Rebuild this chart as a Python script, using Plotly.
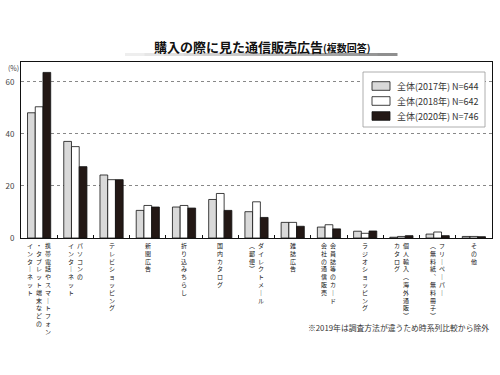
import plotly.graph_objects as go

# ---------------- data ----------------
categories = [
    "携帯電話やスマートフォン\n・タブレット端末などの\nインターネット",
    "パソコンの\nインターネット",
    "テレビショッピング",
    "新聞広告",
    "折り込みちらし",
    "国内カタログ",
    "ダイレクトメール\n(郵便)",
    "雑誌広告",
    "会員誌等のカード\n会社の通信販売",
    "ラジオショッピング",
    "個人輸入(海外通販)\nカタログ",
    "フリーペーパー\n(無料紙、無料冊子)",
    "その他",
]
series_names = ["全体(2017年) N=644", "全体(2018年) N=642", "全体(2020年) N=746"]
v2017 = [48.1, 37.1, 24.2, 10.6, 11.9, 14.8, 10.1, 6.0, 4.2, 2.6, 0.3, 1.5, 0.6]
v2018 = [50.4, 35.1, 22.4, 12.5, 12.5, 17.1, 13.9, 6.0, 5.1, 1.8, 0.6, 2.3, 0.6]
v2020 = [63.6, 27.4, 22.4, 11.9, 11.5, 10.6, 7.9, 4.5, 3.5, 2.7, 0.9, 0.9, 0.5]
y_ticks = [0, 20, 40, 60]
title_main = "購入の際に見た通信販売広告"
title_sub = "(複数回答)"
footnote = "※2019年は調査方法が違うため時系列比較から除外"
unit_label = "(%)"

# ---------------- styling ----------------
FONT = "Noto Sans CJK JP"
colors = ["#d9d9d9", "#ffffff", "#231815"]
W, H = 500, 375
L, R, T, B = 21, 8, 62, 137
PW, PH = W - L - R, H - T - B


def px(x):
    return (x - L) / PW


def py(y):
    return (H - B - y) / PH


keys = [c.replace("\n", "") for c in categories]
series = [v2017, v2018, v2020]

fig = go.Figure()
for name, vals, col in zip(series_names, series, colors):
    fig.add_trace(go.Bar(
        x=keys, y=vals, name=name,
        marker=dict(color=col, line=dict(color="#111111", width=0.8)),
        showlegend=False,
    ))

annotations = []
shapes = []

# vertical (tategaki) category labels: one text per column, one character per line
VERT = {"ー": "｜", "(": "︵", ")": "︶", "、": "︑"}
colgap = 9.0
for key, label in zip(keys, categories):
    cols = label.split("\n")
    n = len(cols)
    for j, col in enumerate(cols):
        xs = ((n - 1) / 2 - j) * colgap
        text = "<br>".join(VERT.get(ch, ch) for ch in col)
        annotations.append(dict(
            x=key, xref="x", y=0, yref="paper",
            xshift=xs, yshift=-2,
            text=text, showarrow=False, align="center",
            xanchor="center", yanchor="top", borderpad=0,
            font=dict(family=FONT, size=6.0, color="#111111"),
        ))

# title
annotations.append(dict(
    x=px(262), y=py(46), xref="paper", yref="paper", showarrow=False,
    xanchor="center", yanchor="middle",
    text=f"<b>{title_main}</b><span style='font-size:10px'><b>{title_sub}</b></span>",
    font=dict(family=FONT, size=13, color="#111111"),
))
# title underline bar (gradient)
nseg = 14
x0u, x1u = 125, 397
for k in range(nseg):
    a = x0u + (x1u - x0u) * k / nseg
    b = x0u + (x1u - x0u) * (k + 1) / nseg + 0.5
    g = int(238 - 95 * k / (nseg - 1))
    shapes.append(dict(type="rect", xref="paper", yref="paper",
                       x0=px(a), x1=px(b), y0=py(56), y1=py(53),
                       fillcolor=f"rgb({g},{g},{g})", line=dict(width=0), layer="above"))

# unit label
annotations.append(dict(
    x=px(13), y=py(68), xref="paper", yref="paper", showarrow=False,
    xanchor="center", yanchor="middle", text=unit_label,
    font=dict(family=FONT, size=7, color="#444444"),
))
# footnote
annotations.append(dict(
    x=px(491), y=py(327), xref="paper", yref="paper", showarrow=False,
    xanchor="right", yanchor="middle", text=footnote,
    font=dict(family=FONT, size=7.8, color="#333333"),
))

# manual legend
shapes.append(dict(type="rect", xref="paper", yref="paper",
                   x0=px(363), x1=px(485), y0=py(127), y1=py(72),
                   fillcolor="white", line=dict(color="#999999", width=0.8), layer="above"))
for k, (name, col) in enumerate(zip(series_names, colors)):
    yc = 86 + k * 15
    shapes.append(dict(type="rect", xref="paper", yref="paper",
                       x0=px(372), x1=px(390), y0=py(yc + 4.3), y1=py(yc - 4.3),
                       fillcolor=col, line=dict(color="#111111", width=0.8), layer="above"))
    annotations.append(dict(
        x=px(395), y=py(yc), xref="paper", yref="paper", showarrow=False,
        xanchor="left", yanchor="middle", text=name,
        font=dict(family=FONT, size=9, color="#333333"),
    ))

fig.update_layout(
    width=W, height=H,
    margin=dict(l=L, r=R, t=T, b=B, pad=0, autoexpand=False),
    paper_bgcolor="white", plot_bgcolor="white",
    barmode="group", bargap=0.36, bargroupgap=0,
    font=dict(family=FONT),
    annotations=annotations, shapes=shapes,
)
fig.update_xaxes(
    type="category", showticklabels=False, automargin=False,
    showline=True, linecolor="#111111", linewidth=1, mirror=True,
    ticks="inside", tickson="boundaries", ticklen=3, tickcolor="#111111", tickwidth=1,
    showgrid=False,
)
fig.update_yaxes(
    range=[0, 67.6], tickvals=y_ticks, ticks="", automargin=False,
    showline=True, linecolor="#111111", linewidth=1, mirror=True,
    showgrid=True, gridcolor="#888888", griddash="dot", gridwidth=0.8,
    zeroline=False, tickfont=dict(family=FONT, size=8, color="#444444"),
    ticklabelstandoff=4,
)

fig.write_html(
    "out.html",
    config={"displayModeBar": False},
    post_script="document.body.style.margin='0px';document.body.style.overflow='hidden';",
)
